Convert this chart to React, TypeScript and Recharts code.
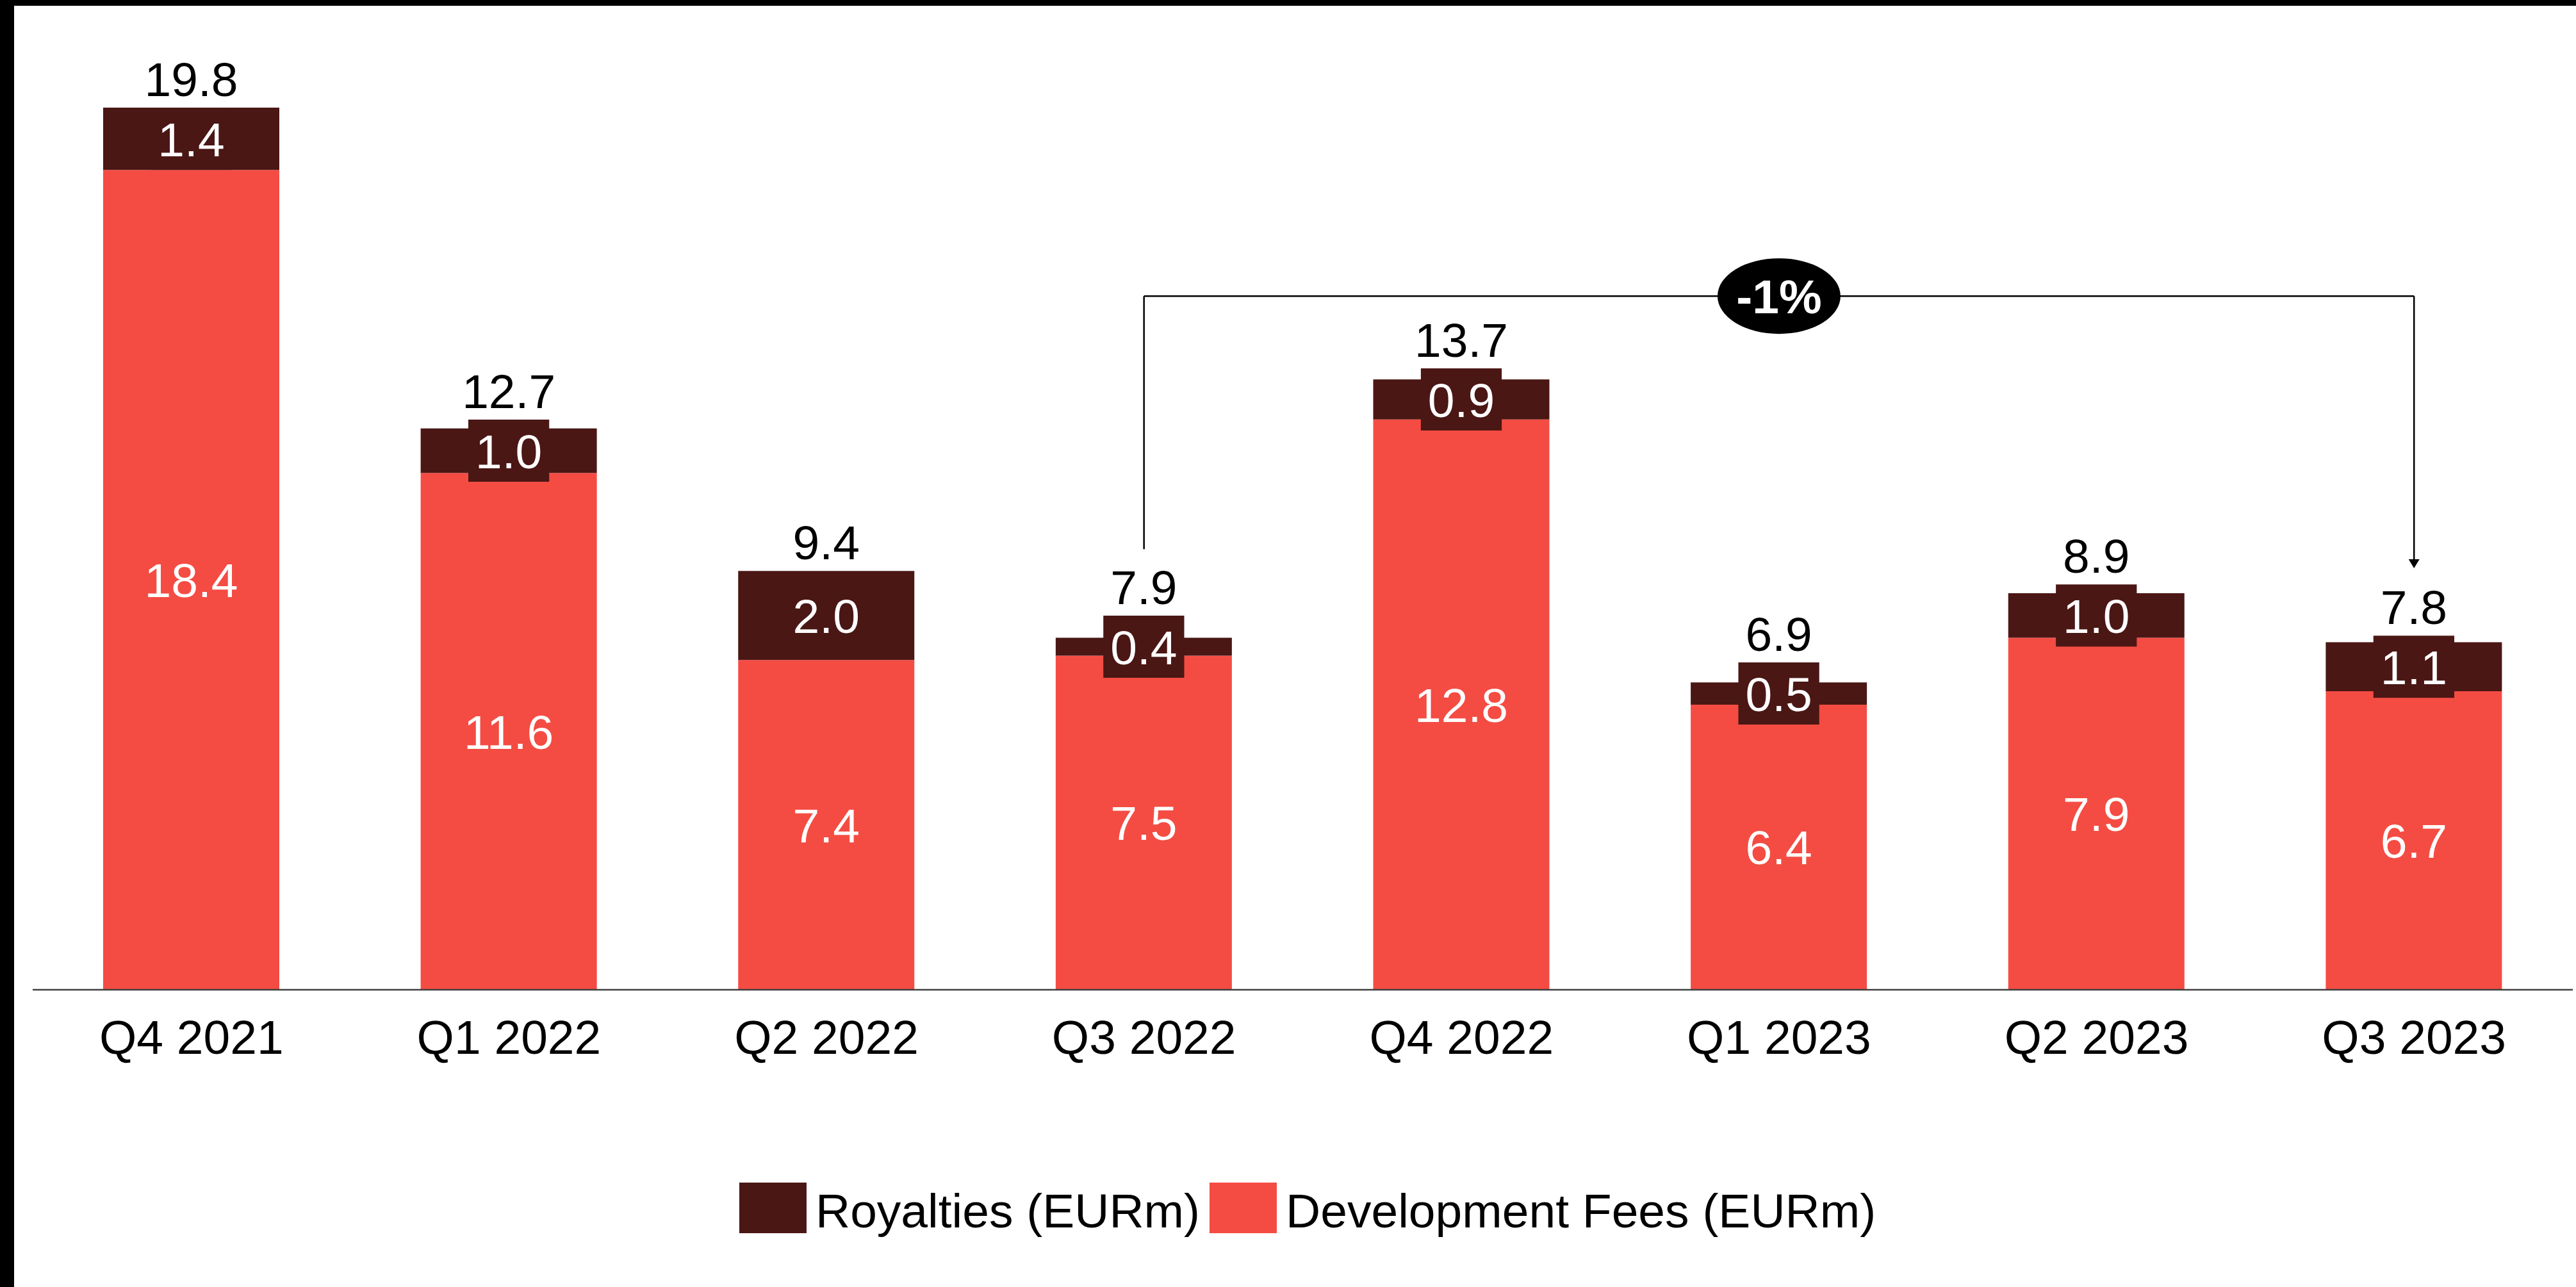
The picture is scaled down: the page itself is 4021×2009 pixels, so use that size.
import React from "react";
import {
  BarChart,
  Bar,
  XAxis,
  YAxis,
  LabelList,
  Legend,
  ReferenceLine,
  ReferenceDot,
} from "recharts";

// quarterly revenue split, EURm
const quarters = [
  "Q4 2021",
  "Q1 2022",
  "Q2 2022",
  "Q3 2022",
  "Q4 2022",
  "Q1 2023",
  "Q2 2023",
  "Q3 2023",
];
const developmentFees = [18.4, 11.6, 7.4, 7.5, 12.8, 6.4, 7.9, 6.7];
const royalties = [1.4, 1.0, 2.0, 0.4, 0.9, 0.5, 1.0, 1.1];
const totals = [19.8, 12.7, 9.4, 7.9, 13.7, 6.9, 8.9, 7.8];

// YoY bracket (Q3 2022 -> Q3 2023)
const changeLabel = "-1%";
const changeFrom = "Q3 2022";
const changeTo = "Q3 2023";
const changeBadgeAt = "Q1 2023";
const bracketLevel = 15.57;
const bracketFromEnd = 9.89;
const bracketToEnd = 9.46;

const FONT = '"Liberation Sans", Arial, Helvetica, sans-serif';
const DARK = "#4a1715";
const RED = "#f44c43";
const W = 4021;
const H = 2009;
const FS = 75;

const legendItems = [
  { name: "Royalties (EURm)", color: DARK },
  { name: "Development Fees (EURm)", color: RED },
];

const data = quarters.map((quarter, i) => ({
  quarter,
  dev: developmentFees[i],
  roy: royalties[i],
  total: totals[i],
}));

const fmt = (v: any) => Number(v).toFixed(1);

// rough Arial advance widths for digits / dot
const textWidth = (s: string) =>
  s.split("").reduce((w, c) => w + (c === "." ? 0.278 : 0.556), 0) * FS;

const geom = (props: any) => {
  const vb = props.viewBox && props.viewBox.width != null ? props.viewBox : props;
  const h = Math.abs(vb.height);
  const top = vb.height < 0 ? vb.y + vb.height : vb.y;
  return { cx: vb.x + vb.width / 2, cy: top + h / 2, top, h };
};

const DevLabel = (props: any) => {
  const { cx, cy } = geom(props);
  return (
    <text x={cx} y={cy + 27} textAnchor="middle" fill="#fff" fontSize={FS} fontFamily={FONT}>
      {fmt(props.value)}
    </text>
  );
};

const RoyaltyLabel = (props: any) => {
  const { cx, cy } = geom(props);
  const txt = fmt(props.value);
  const bw = textWidth(txt) + 22;
  return (
    <g>
      <rect x={cx - bw / 2} y={cy - 48.5} width={bw} height={97} fill={DARK} />
      <text x={cx} y={cy + 27} textAnchor="middle" fill="#fff" fontSize={FS} fontFamily={FONT}>
        {txt}
      </text>
    </g>
  );
};

const TotalLabel = (props: any) => {
  const { cx, cy, top } = geom(props);
  const boxTop = Math.min(top, cy - 48.5);
  return (
    <text x={cx} y={boxTop - 18} textAnchor="middle" fill="#000" fontSize={FS} fontFamily={FONT}>
      {fmt(props.value)}
    </text>
  );
};

const ArrowLine = (p: any) => {
  const { x1, y1, x2, y2 } = p;
  return (
    <g>
      <line x1={x1} y1={y1} x2={x2} y2={y2 - 12} stroke="#000" strokeWidth={2.5} />
      <polygon
        points={`${x2 - 8.5},${y2 - 14} ${x2 + 8.5},${y2 - 14} ${x2},${y2}`}
        fill="#000"
      />
    </g>
  );
};

const Badge = (p: any) => (
  <g>
    <ellipse cx={p.cx} cy={p.cy} rx={96} ry={59} fill="#000" />
    <text
      x={p.cx}
      y={p.cy + 27}
      textAnchor="middle"
      fill="#fff"
      fontSize={FS}
      fontWeight="bold"
      fontFamily={FONT}
    >
      {changeLabel}
    </text>
  </g>
);

const renderLegend = () => (
  <div
    style={{
      display: "flex",
      alignItems: "flex-start",
      paddingLeft: 1154,
      height: 79,
      fontFamily: FONT,
      fontSize: FS,
      color: "#000",
      whiteSpace: "nowrap",
    }}
  >
    {legendItems.map((it) => (
      <div key={it.name} style={{ display: "flex", alignItems: "flex-start" }}>
        <div style={{ width: 105, height: 79, background: it.color }} />
        <span style={{ marginLeft: 14, marginRight: 15, lineHeight: "79px", marginTop: 5 }}>
          {it.name}
        </span>
      </div>
    ))}
  </div>
);

export default function App() {
  return (
    <div
      style={{
        position: "absolute",
        left: 0,
        top: 0,
        width: W,
        height: H,
        background: "#fff",
        fontFamily: FONT,
        overflow: "hidden",
      }}
    >
      <BarChart
        width={W}
        height={H}
        data={data}
        margin={{ top: 15, right: 5, left: 51, bottom: 84 }}
      >
        <XAxis
          dataKey="quarter"
          height={301}
          tickLine={false}
          tickSize={0}
          tickMargin={47}
          axisLine={{ stroke: "#404040", strokeWidth: 2.5 }}
          tick={{ fill: "#000", fontSize: FS, fontFamily: FONT }}
          interval={0}
        />
        <YAxis hide type="number" domain={[0, 22]} />
        <Legend
          verticalAlign="bottom"
          content={renderLegend}
          wrapperStyle={{ left: 0, width: W, bottom: 84 }}
        />
        <Bar dataKey="dev" stackId="a" fill={RED} barSize={275} isAnimationActive={false}>
          <LabelList dataKey="dev" content={DevLabel} />
        </Bar>
        <Bar dataKey="roy" stackId="a" fill={DARK} barSize={275} isAnimationActive={false}>
          <LabelList dataKey="roy" content={RoyaltyLabel} />
          <LabelList dataKey="total" content={TotalLabel} />
        </Bar>
        <ReferenceLine
          segment={[
            { x: changeFrom, y: bracketLevel },
            { x: changeTo, y: bracketLevel },
          ]}
          stroke="#000"
          strokeWidth={2.5}
        />
        <ReferenceLine
          segment={[
            { x: changeFrom, y: bracketLevel },
            { x: changeFrom, y: bracketFromEnd },
          ]}
          stroke="#000"
          strokeWidth={2.5}
        />
        <ReferenceLine
          segment={[
            { x: changeTo, y: bracketLevel },
            { x: changeTo, y: bracketToEnd },
          ]}
          shape={ArrowLine}
        />
        <ReferenceDot x={changeBadgeAt} y={bracketLevel} r={60} shape={Badge} />
      </BarChart>
      <div style={{ position: "absolute", left: 0, top: 0, width: W, height: 9, background: "#000" }} />
      <div style={{ position: "absolute", left: 0, top: 0, width: 22, height: H, background: "#000" }} />
    </div>
  );
}
